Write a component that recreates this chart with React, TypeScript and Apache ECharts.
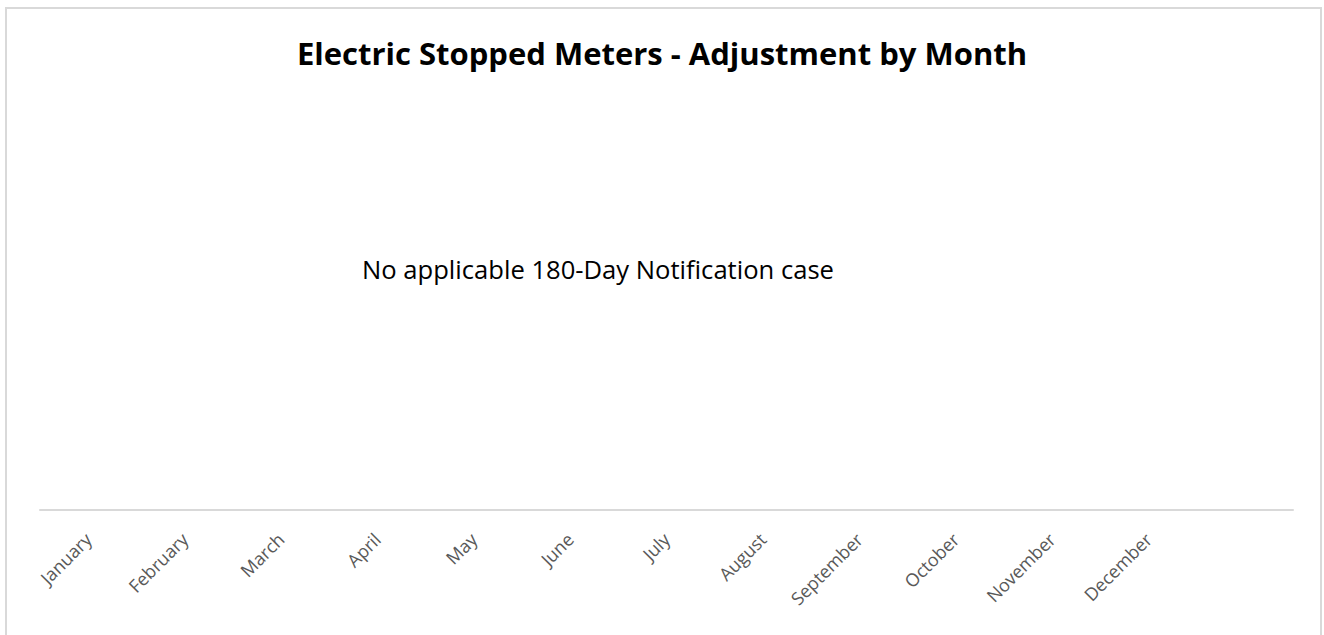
import React, { useEffect, useRef } from "react";
import * as echarts from "echarts";

const chartTitle = "Electric Stopped Meters - Adjustment by Month";
const noDataNote = "No applicable 180-Day Notification case";
const months = [
  "January", "February", "March", "April", "May", "June",
  "July", "August", "September", "October", "November", "December", "",
];
const adjustments: (number | null)[] = [null, null, null, null, null, null, null, null, null, null, null, null, null];

export default function App() {
  const ref = useRef<HTMLDivElement>(null);
  useEffect(() => {
    document.body.style.margin = "0";
    const chart = echarts.init(ref.current!, null, { renderer: "svg" });
    chart.setOption({
      animation: false,
      backgroundColor: "#ffffff",
      title: {
        text: chartTitle,
        left: "center",
        top: 32,
        textStyle: { fontFamily: "Open Sans", fontWeight: "bold", fontSize: 31, color: "#000000" },
      },
      grid: { left: 40, right: 31, top: 120, bottom: 125 },
      xAxis: {
        type: "category",
        data: months,
        boundaryGap: true,
        axisLine: { show: true, lineStyle: { color: "#d9d9d9", width: 2 } },
        axisTick: { show: false },
        axisLabel: {
          rotate: 45,
          interval: 0,
          margin: 26,
          color: "#595959",
          fontFamily: "Open Sans",
          fontSize: 18,
        },
      },
      yAxis: { type: "value", min: 0, max: 1, show: false },
      series: [{ type: "bar", data: adjustments }],
      graphic: [
        {
          type: "rect",
          shape: { x: 6, y: 8, width: 1315, height: 640 },
          style: { fill: "none", stroke: "#d9d9d9", lineWidth: 2 },
          silent: true,
        },
        {
          type: "text",
          x: 362,
          y: 269,
          style: {
            text: noDataNote,
            fontFamily: "Open Sans",
            fontSize: 25.6,
            fill: "#000000",
            verticalAlign: "middle",
          },
        },
      ],
    });
    return () => chart.dispose();
  }, []);
  return <div ref={ref} style={{ position: "absolute", left: 0, top: 0, width: 1324, height: 635 }} />;
}
